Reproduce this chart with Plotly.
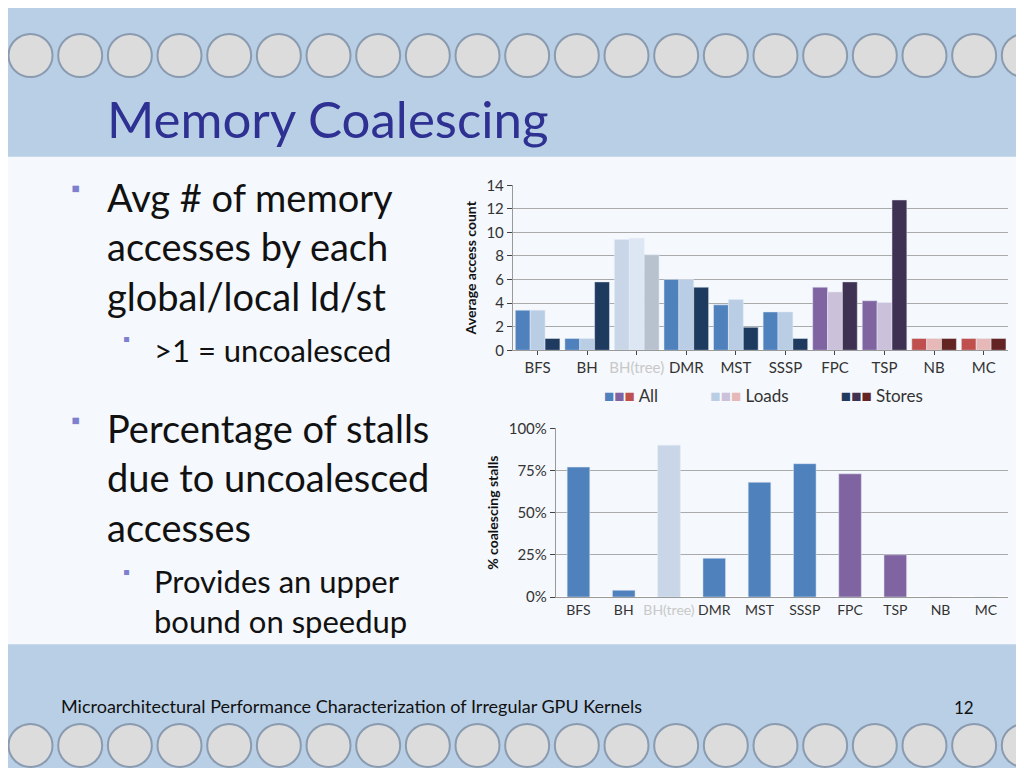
import plotly.graph_objects as go

categories = ["BFS", "BH", "BH(tree)", "DMR", "MST", "SSSP", "FPC", "TSP", "NB", "MC"]
all_acc = [3.4, 1.0, 9.4, 6.0, 3.85, 3.25, 5.35, 4.2, 1.0, 1.0]
loads_acc = [3.4, 1.0, 9.5, 6.0, 4.3, 3.25, 4.95, 4.05, 1.0, 1.0]
stores_acc = [1.0, 5.8, 8.1, 5.35, 1.95, 1.0, 5.8, 12.75, 1.0, 1.0]
stall_pct = [77, 4, 90, 23, 68, 79, 73, 25, 0, 0]
pct_ticks = [0, 25, 50, 75, 100]

# colour family per benchmark
family = ["blue", "blue", "faded", "blue", "blue", "blue", "purple", "purple", "red", "red"]
pal = {
	"blue":   ("#4f81bd", "#b9cde5", "#1f3a5f"),
	"faded":  ("#c8d6e8", "#dde7f3", "#b8c2cf"),
	"purple": ("#8064a2", "#ccc1da", "#3f3151"),
	"red":    ("#c0504d", "#e6b9b8", "#632423"),
}
font = "Lato"

fig = go.Figure()
for i, (name, vals) in enumerate([("All", all_acc), ("Loads", loads_acc), ("Stores", stores_acc)]):
	fig.add_trace(go.Bar(x=categories, y=vals, name=name, marker_color=[pal[f][i] for f in family],
		xaxis="x", yaxis="y", showlegend=False))
fig.add_trace(go.Bar(x=categories, y=stall_pct, marker_color=[pal[f][0] for f in family],
	xaxis="x2", yaxis="y2", showlegend=False, width=0.5))

tickfont = dict(family=font, size=15, color="#333")
ticktext = ["<span style='color:#c8c8c8'>BH(tree)</span>" if c == "BH(tree)" else c for c in categories]

# decorative slide background: pins along top and bottom bands
shapes = [dict(type="rect", xref="paper", yref="paper", x0=0, x1=1, y0=0.165, y1=0.815,
	fillcolor="white", opacity=0.85, line_width=0, layer="below")]
rx, ry = 22 / 1024, 22 / 768
for k in range(21):
	cx = 0.022 + k * 0.0485
	for cy in (0.95, 0.03):
		shapes.append(dict(type="circle", xref="paper", yref="paper", x0=cx - rx, x1=cx + rx,
			y0=cy - ry, y1=cy + ry, fillcolor="#dcdcdc", line=dict(color="#8a9bb0", width=2), layer="below"))

ann = [
	dict(text="Memory Coalescing", x=0.095, y=0.866, font=dict(family=font, size=51, color="#2e3192")),
	dict(text="Avg # of memory<br>accesses by each<br>global/local ld/st", x=0.095, y=0.795,
		font=dict(family=font, size=38, color="#111"), align="left", yanchor="top"),
	dict(text=">1 = uncoalesced", x=0.141, y=0.557, font=dict(family=font, size=31, color="#111")),
	dict(text="Percentage of stalls<br>due to uncoalesced<br>accesses", x=0.095, y=0.487,
		font=dict(family=font, size=38, color="#111"), align="left", yanchor="top"),
	dict(text="Provides an upper<br>bound on speedup", x=0.141, y=0.278,
		font=dict(family=font, size=31, color="#111"), align="left", yanchor="top"),
	dict(text="Microarchitectural Performance Characterization of Irregular GPU Kernels", x=0.05, y=0.083,
		font=dict(family=font, size=18, color="#111")),
	dict(text="12", x=0.922, y=0.081, font=dict(family=font, size=17, color="#111")),
	dict(text="<span style='color:#4f81bd'>■</span><span style='color:#8064a2'>■</span><span style='color:#c0504d'>■</span> All"
		"            <span style='color:#b9cde5'>■</span><span style='color:#ccc1da'>■</span><span style='color:#e6b9b8'>■</span> Loads"
		"            <span style='color:#1f3a5f'>■</span><span style='color:#3f3151'>■</span><span style='color:#632423'>■</span> Stores",
		x=0.58, y=0.497, font=dict(family=font, size=17, color="#333")),
]
for b_y in (0.775, 0.465):
	ann.append(dict(text="▪", x=0.06, y=b_y, font=dict(size=26, color="#7f7fd0")))
for b_y in (0.573, 0.262):
	ann.append(dict(text="▪", x=0.11, y=b_y, font=dict(size=20, color="#7f7fd0")))
for a in ann:
	a.update(xref="paper", yref="paper", showarrow=False, xanchor="left")
	a.setdefault("yanchor", "middle")

fig.update_layout(
	width=1024, height=768, margin=dict(l=0, r=0, t=0, b=0),
	paper_bgcolor="#b9cfe6", plot_bgcolor="rgba(0,0,0,0)",
	bargap=0.1, bargroupgap=0, barmode="group",
	shapes=shapes, annotations=ann,
	xaxis=dict(domain=[0.493, 0.977], anchor="y", tickmode="array", tickvals=categories, ticktext=ticktext,
		tickfont=tickfont, tickangle=0, showline=True, linecolor="#999", ticks="outside", ticklen=4),
	yaxis=dict(domain=[0.557, 0.777], anchor="x", range=[0, 14], dtick=2, tickfont=tickfont,
		gridcolor="#aaa", showline=True, linecolor="#999", ticks="outside",
		title=dict(text="<b>Average access count</b>", font=dict(family=font, size=14, color="#111"), standoff=6)),
	xaxis2=dict(domain=[0.535, 0.977], anchor="y2", tickmode="array", tickvals=categories, ticktext=ticktext,
		tickfont=dict(family=font, size=14, color="#333"), tickangle=0, showline=True, linecolor="#999"),
	yaxis2=dict(domain=[0.228, 0.453], anchor="x2", range=[0, 100], tickmode="array", tickvals=pct_ticks,
		ticktext=[f"{v}%" for v in pct_ticks],
		tickfont=tickfont, gridcolor="#aaa", showline=True, linecolor="#999", ticks="outside",
		title=dict(text="<b>% coalescing stalls</b>", font=dict(family=font, size=14, color="#111"), standoff=6)),
)

fig.write_html("out.html")
